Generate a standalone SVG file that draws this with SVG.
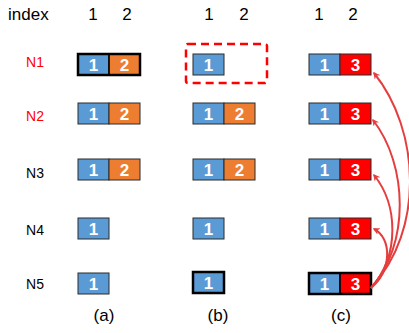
<svg xmlns="http://www.w3.org/2000/svg" width="409" height="333" viewBox="0 0 409 333">
<defs>
<style>
.t{font-family:"Liberation Sans",Arial,sans-serif;fill:#000;}
.hd{font-size:17px;text-anchor:middle;}
.lab{font-size:14px;text-anchor:middle;}
.red{fill:#FF0000;}
.num{font-family:"Liberation Sans",Arial,sans-serif;font-size:17px;font-weight:bold;fill:#fff;text-anchor:middle;}
.b{fill:#5B9BD5;stroke:#2b2b2b;stroke-width:1;}
.o{fill:#ED7D31;stroke:#2b2b2b;stroke-width:1;}
.r{fill:#FF0000;stroke:#2b2b2b;stroke-width:1;}
.thick{fill:none;stroke:#000;stroke-width:2.5;}
.arr{fill:none;stroke:#E53E3E;stroke-width:2;marker-end:url(#ah);}
</style>
<marker id="ah" viewBox="0 0 10 10" refX="8" refY="5" markerWidth="7" markerHeight="7" markerUnits="userSpaceOnUse" orient="auto">
<path d="M0,0 L10,5 L0,10 L3,5 z" fill="#E53E3E"/>
</marker>
</defs>

<g id="header">
<text class="t" x="8" y="20" font-size="17">index</text>
<text class="t hd" x="93" y="20">1</text>
<text class="t hd" x="127" y="20">2</text>
<text class="t hd" x="209" y="20">1</text>
<text class="t hd" x="244" y="20">2</text>
<text class="t hd" x="319" y="20">1</text>
<text class="t hd" x="353" y="20">2</text>
</g>

<g id="rowlabels">
<text class="t lab red" x="35" y="67">N1</text>
<text class="t lab red" x="35" y="121">N2</text>
<text class="t lab" x="35" y="178">N3</text>
<text class="t lab" x="35" y="235">N4</text>
<text class="t lab" x="35" y="289">N5</text>
</g>

<g id="col-a">
<g id="a-N1">
<rect class="b" x="78" y="54" width="31" height="21"/><rect class="o" x="109" y="54" width="31" height="21"/>
<rect class="thick" x="78" y="54" width="62" height="21"/><line x1="109" y1="54" x2="109" y2="75" stroke="#000" stroke-width="1.5"/>
<text class="num" x="93.5" y="70.5">1</text><text class="num" x="124.5" y="70.5">2</text>
</g>
<g id="a-N2">
<rect class="b" x="78" y="103" width="31" height="21"/><rect class="o" x="109" y="103" width="31" height="21"/>
<text class="num" x="93.5" y="119.5">1</text><text class="num" x="124.5" y="119.5">2</text>
</g>
<g id="a-N3">
<rect class="b" x="78" y="159" width="31" height="21"/><rect class="o" x="109" y="159" width="31" height="21"/>
<text class="num" x="93.5" y="175.5">1</text><text class="num" x="124.5" y="175.5">2</text>
</g>
<g id="a-N4">
<rect class="b" x="78" y="218" width="31" height="21"/>
<text class="num" x="93.5" y="234.5">1</text>
</g>
<g id="a-N5">
<rect class="b" x="78" y="273" width="31" height="21"/>
<text class="num" x="93.5" y="289.5">1</text>
</g>
<text class="t hd" x="104" y="321">(a)</text>
</g>

<g id="col-b">
<g id="b-N1">
<rect x="186" y="44" width="81" height="39" rx="2" fill="none" stroke="#FF0000" stroke-width="2.5" stroke-dasharray="8,5"/>
<rect class="b" x="193" y="54" width="31" height="21"/>
<text class="num" x="208.5" y="70.5">1</text>
</g>
<g id="b-N2">
<rect class="b" x="193" y="103" width="31" height="21"/><rect class="o" x="224" y="103" width="31" height="21"/>
<text class="num" x="208.5" y="119.5">1</text><text class="num" x="239.5" y="119.5">2</text>
</g>
<g id="b-N3">
<rect class="b" x="193" y="159" width="31" height="21"/><rect class="o" x="224" y="159" width="31" height="21"/>
<text class="num" x="208.5" y="175.5">1</text><text class="num" x="239.5" y="175.5">2</text>
</g>
<g id="b-N4">
<rect class="b" x="193" y="218" width="31" height="21"/>
<text class="num" x="208.5" y="234.5">1</text>
</g>
<g id="b-N5">
<rect class="b" x="193" y="272" width="31" height="21"/>
<rect class="thick" x="193" y="272" width="31" height="21"/>
<text class="num" x="208.5" y="288.5">1</text>
</g>
<text class="t hd" x="218" y="321">(b)</text>
</g>

<g id="col-c">
<g id="c-N1">
<rect class="b" x="309" y="54" width="31" height="21"/><rect class="r" x="340" y="54" width="31" height="21"/>
<text class="num" x="324.5" y="70.5">1</text><text class="num" x="355.5" y="70.5">3</text>
</g>
<g id="c-N2">
<rect class="b" x="309" y="103" width="31" height="21"/><rect class="r" x="340" y="103" width="31" height="21"/>
<text class="num" x="324.5" y="119.5">1</text><text class="num" x="355.5" y="119.5">3</text>
</g>
<g id="c-N3">
<rect class="b" x="309" y="159" width="31" height="21"/><rect class="r" x="340" y="159" width="31" height="21"/>
<text class="num" x="324.5" y="175.5">1</text><text class="num" x="355.5" y="175.5">3</text>
</g>
<g id="c-N4">
<rect class="b" x="309" y="218" width="31" height="21"/><rect class="r" x="340" y="218" width="31" height="21"/>
<text class="num" x="324.5" y="234.5">1</text><text class="num" x="355.5" y="234.5">3</text>
</g>
<g id="c-N5">
<rect class="b" x="309" y="273" width="31" height="21"/><rect class="r" x="340" y="273" width="31" height="21"/>
<rect class="thick" x="309" y="273" width="62" height="21"/><line x1="340" y1="273" x2="340" y2="294" stroke="#000" stroke-width="1.5"/>
<text class="num" x="324.5" y="289.5">1</text><text class="num" x="355.5" y="289.5">3</text>
</g>
<text class="t hd" x="341" y="321">(c)</text>
</g>

<g id="connectors">
<path class="arr" d="M371,288 C392,270 392,238 374,229"/>
<path class="arr" d="M371,288 C400,255 398,205 374,175"/>
<path class="arr" d="M371,288 C410,245 408,165 373,120"/>
<path class="arr" d="M371,288 C425,230 420,130 374,73"/>
</g>
</svg>
